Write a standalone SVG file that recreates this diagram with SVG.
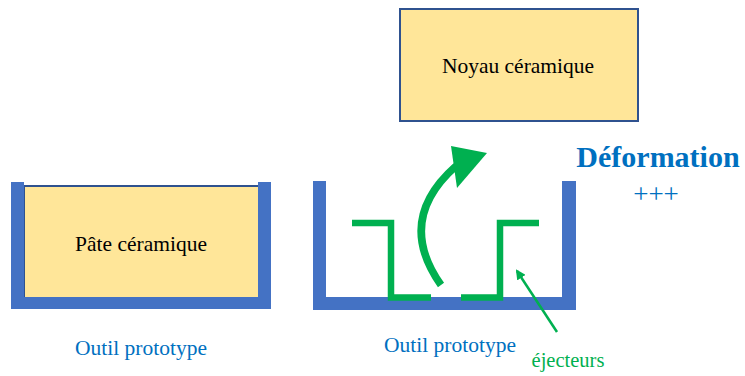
<svg xmlns="http://www.w3.org/2000/svg" width="745" height="376" viewBox="0 0 745 376">
<style>
.tool{fill:#4472C4}
.box{fill:#FFE699;stroke:#2F528F;stroke-width:2}
.t{font-family:"Liberation Serif","Times New Roman",serif;text-anchor:middle}
.blk{fill:#000;font-size:21.5px}
.blue{fill:#0070C0}
.ej{fill:none;stroke:#00B050;stroke-width:6.5}
</style>
<defs>
<marker id="ah" markerWidth="10" markerHeight="10" refX="8" refY="5" orient="auto" markerUnits="userSpaceOnUse" viewBox="0 0 10 10">
<path d="M0,0 L10,5 L0,10 z" fill="#00B050"/>
</marker>
</defs>
<rect width="745" height="376" fill="#fff"/>
<g id="outil-gauche">
<rect class="box" x="24" y="186" width="235" height="112"/>
<path class="tool" d="M11,182 H24 V297 H258 V182 H271 V309 H11 Z"/>
<text class="t blk" x="141" y="251">Pâte céramique</text>
<text class="t blue" x="141" y="355" font-size="21.5">Outil prototype</text>
</g>
<g id="outil-droit">
<path class="tool" d="M313,181 H326 V297 H562 V181 H576 V310 H313 Z"/>
<text class="t blue" x="450" y="352" font-size="21.5">Outil prototype</text>
</g>
<g id="ejecteurs">
<path class="ej" d="M352,223 H391 V297.5 H431"/>
<path class="ej" d="M461,297.5 H500 V223 H539"/>
<text class="t" x="568" y="367" font-size="20.5" fill="#00B050">éjecteurs</text>
</g>
<g id="noyau">
<rect class="box" x="400" y="9" width="238" height="112"/>
<text class="t blk" x="518" y="73">Noyau céramique</text>
</g>
<g id="deformation">
<text class="t blue" x="658" y="167" font-size="30" font-weight="bold">Déformation</text>
<text class="t blue" x="656" y="203" font-size="27">+++</text>
</g>
<g id="connecteurs">
<path d="M441,285 Q395,220 456,166" fill="none" stroke="#00B050" stroke-width="7.5"/>
<path d="M451,146 L487,153 L457,188 Z" fill="#00B050"/>
<line x1="557" y1="332" x2="517" y2="271" stroke="#00B050" stroke-width="2.5" marker-end="url(#ah)"/>
</g>
</svg>
